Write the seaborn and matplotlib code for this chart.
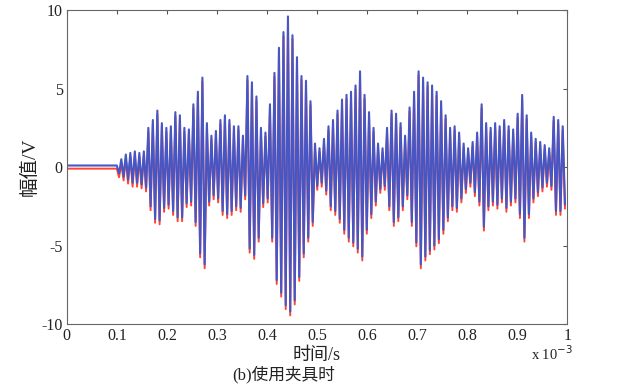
import numpy as np
import pandas as pd
import matplotlib
matplotlib.use("Agg")
import matplotlib.pyplot as plt
import seaborn as sns

# time axis in units of 1e-3 s
t_onset = 0.1          # start of the oscillation
cycle = 0.009          # one oscillation cycle
baseline_blue = 0.1    # level before the onset
baseline_red = -0.1
red_shift = -0.25      # red trace sits a little below the blue one

# peak / trough of each cycle
blue_peaks = [0.3, 0.5, 0.8, 0.9, 1.0, 0.9, 1.0, 2.5, 3.0, 3.6,
              2.8, 2.5, 2.6, 3.5, 3.3, 2.5, 2.4, 4.0, 4.8, 5.7,
              2.8, 2.0, 2.3, 3.0, 3.3, 3.0, 2.6, 2.6, 2.0, 5.8,
              5.4, 4.5, 2.5, 2.2, 4.0, 6.0, 7.6, 8.6, 9.6, 8.4,
              7.0, 5.8, 5.5, 4.2, 1.5, 1.2, 1.8, 2.6, 3.0, 3.6,
              4.3, 4.6, 4.8, 5.2, 6.1, 4.6, 3.5, 2.5, 1.5, 1.2,
              2.5, 3.6, 3.4, 2.8, 2.0, 3.8, 4.8, 6.1, 5.7, 5.4,
              5.2, 4.8, 4.2, 3.3, 2.5, 2.6, 2.2, 1.5, 1.2, 1.6,
              2.2, 4.0, 2.8, 2.5, 2.8, 2.6, 3.0, 2.6, 2.4, 3.4,
              4.6, 3.3, 2.2, 1.8, 1.6, 1.4, 1.2, 3.2, 3.0, 2.6]
blue_troughs = [-0.4, -0.6, -0.8, -1.0, -1.0, -1.1, -1.3, -2.5, -3.3, -3.4,
                -2.6, -2.4, -2.8, -3.2, -3.2, -2.3, -2.2, -3.5, -5.5, -6.2,
                -2.2, -1.8, -2.0, -2.8, -3.0, -2.8, -2.5, -2.6, -1.8, -5.2,
                -5.6, -4.5, -2.3, -2.0, -4.5, -7.2, -8.0, -8.8, -9.2, -8.5,
                -7.0, -5.5, -4.5, -3.5, -1.2, -1.0, -1.5, -2.5, -2.8, -3.3,
                -4.0, -4.5, -4.8, -5.2, -5.7, -4.0, -3.0, -2.2, -1.4, -1.2,
                -2.5, -3.5, -3.2, -2.5, -1.8, -3.5, -4.8, -6.2, -5.7, -5.3,
                -5.0, -4.6, -4.0, -3.2, -2.5, -2.6, -2.0, -1.4, -1.0, -1.6,
                -2.2, -3.8, -2.5, -2.2, -2.4, -2.0, -2.6, -2.2, -2.0, -3.0,
                -4.5, -3.0, -2.0, -1.6, -1.3, -1.0, -1.2, -2.8, -2.8, -2.4]

x_ticks = [0, 0.1, 0.2, 0.3, 0.4, 0.5, 0.6, 0.7, 0.8, 0.9, 1]
x_labels = ["0", "0.1", "0.2", "0.3", "0.4", "0.5", "0.6", "0.7", "0.8", "0.9", "1"]
y_ticks = [-10, -5, 0, 5, 10]

# build the traces: flat baseline, then peak/trough pairs
n = len(blue_peaks)
t_osc = t_onset + cycle * np.arange(n)
t = np.concatenate([[0.0], np.column_stack([t_osc, t_osc + cycle / 2]).ravel()])
v = np.column_stack([blue_peaks, blue_troughs]).ravel()
blue = np.concatenate([[baseline_blue], v])
blue[1] = baseline_blue
red = np.concatenate([[baseline_red], v + red_shift])
red[1] = baseline_red

df = pd.DataFrame({"t": t, "blue": blue, "red": red})

sns.set_style("white")
plt.rcParams["font.family"] = ["Liberation Serif", "Noto Sans CJK SC"]
plt.rcParams["axes.unicode_minus"] = False

fig = plt.figure(figsize=(6.24, 3.89), dpi=100)
ax = fig.add_axes([0.107, 0.167, 0.802, 0.807])

sns.lineplot(data=df, x="t", y="red", sort=False, color="#ff4433", linewidth=1.4, ax=ax)
sns.lineplot(data=df, x="t", y="blue", sort=False, color="#4656c4", linewidth=1.5, ax=ax)

ax.set_xlim(0, 1)
ax.set_ylim(-10, 10)
ax.set_xticks(x_ticks)
ax.set_xticklabels(x_labels)
ax.set_yticks(y_ticks)
ax.tick_params(direction="in", length=3, top=True, right=True, labelsize=11.5,
               color="#555555", labelcolor="#222222", pad=3)
for s in ax.spines.values():
    s.set_color("#666666")
    s.set_linewidth(0.8)

ax.set_xlabel("时间/s", fontsize=13, labelpad=2, color="#222222")
ax.set_ylabel("幅值/V", fontsize=14, labelpad=2, color="#222222")
fig.text(0.885, 0.075, "x 10$^{-3}$", fontsize=10.5, ha="center", color="#222222")
fig.text(0.455, 0.025, "(b)使用夹具时", fontsize=12, ha="center", color="#222222")

fig.savefig("out.png", dpi=100)
